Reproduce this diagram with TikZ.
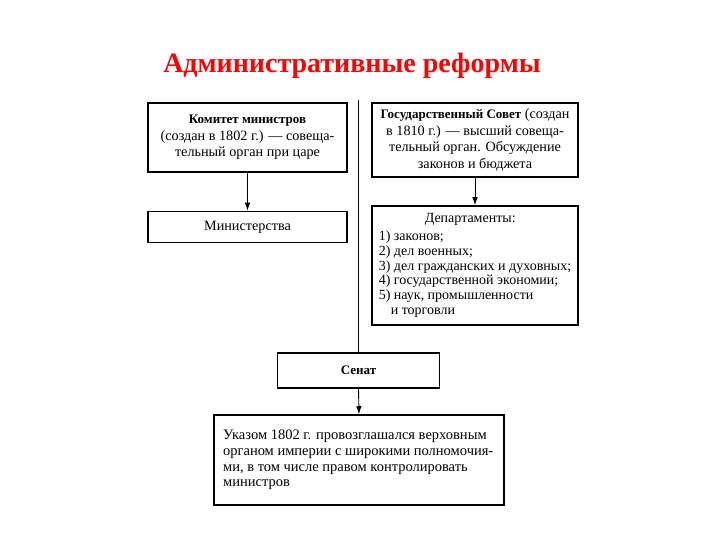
\documentclass[tikz,border=0pt]{standalone}
\usepackage{fontspec}
\setmainfont{Liberation Serif}
\usetikzlibrary{arrows.meta}
\newcommand{\bsm}[1]{{\fontsize{13}{16}\selectfont\bfseries #1}}
\begin{document}
\begin{tikzpicture}[x=1pt,y=-1pt,
  box/.style={draw=black,line width=1.5pt,inner sep=0pt,font=\fontsize{14.2}{16.5}\selectfont},
  conn/.style={draw=black,line width=0.9pt,-{Latex[length=8pt,width=5.5pt]}}]
\fill[white] (0,0) rectangle (720,540);
\useasboundingbox (0,0) rectangle (720,540);
\node[text=red,font=\fontsize{28}{32}\selectfont\bfseries] (title) at (352,66) {Административные реформы};
\node[box,minimum width=199pt,minimum height=69pt,align=center] (kom) at (247.5,137.5)
  {\bsm{Комитет министров}\\(создан в 1802 г.) — совеща-\\тельный орган при царе};
\node[box,minimum width=199pt,minimum height=31pt] (min) at (247.5,227) {Министерства};
\node[box,minimum width=206pt,minimum height=74pt,align=center] (gos) at (475,140)
  {\bsm{Государственный Совет} (создан\\в 1810 г.) — высший совеща-\\тельный орган. Обсуждение\\законов и бюджета};
\node[box,minimum width=206pt,minimum height=119pt,align=left,font=\fontsize{14}{14.8}\selectfont] (dep) at (475,265.5)
  {\hspace*{46pt}Департаменты:\\[3pt]1) законов;\\2) дел военных;\\3) дел гражданских и духовных;\\4) государственной экономии;\\5) наук, промышленности\\\hspace*{12pt}и торговли};
\node[box,minimum width=162pt,minimum height=35pt,font=\fontsize{13}{16}\selectfont\bfseries] (sen) at (358.5,370.5) {Сенат};
\node[box,minimum width=290pt,minimum height=90pt,align=left,font=\fontsize{14.5}{15.7}\selectfont] (uk) at (359,460)
  {Указом 1802 г. провозглашался верховным\\органом империи с широкими полномочия-\\ми, в том числе правом контролировать\\министров\hspace*{205pt}};
\coordinate (vtop) at (358.5,100);
\draw[black,line width=1pt] (vtop) -- (sen.north);
\draw[conn] (kom.south) -- (min.north);
\draw[conn] (gos.south) -- (dep.north);
\draw[conn] (sen.south) -- (uk.north);
\end{tikzpicture}
\end{document}
